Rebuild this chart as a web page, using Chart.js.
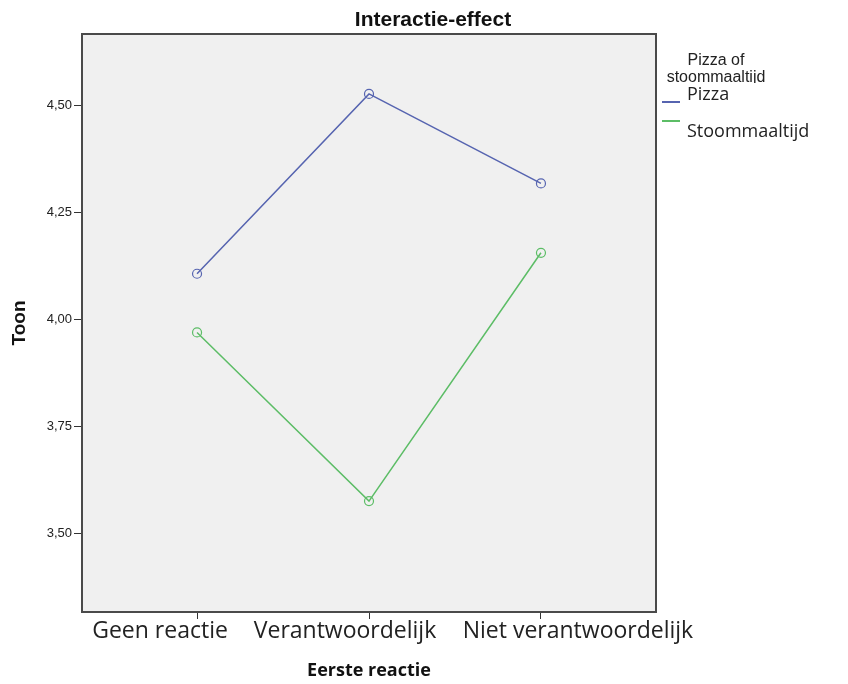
<!DOCTYPE html>
<html>
<head>
<meta charset="utf-8">
<script src="https://cdn.jsdelivr.net/npm/chart.js@4"></script>
<style>
  html, body { margin: 0; padding: 0; background: #fff; }
  #wrap { width: 848px; height: 684px; }
</style>
</head>
<body>
<div id="wrap"><canvas id="chart" width="848" height="684"></canvas></div>
<script>
var categories = ['Geen reactie', 'Verantwoordelijk', 'Niet verantwoordelijk'];
var pizza = [4.107, 4.527, 4.318];
var stoom = [3.970, 3.576, 4.156];
var yTicks = [3.50, 3.75, 4.00, 4.25, 4.50];
var chartTitle = 'Interactie-effect';
var legendTitle = ['Pizza of', 'stoommaaltijd'];

var narrow = '"Liberation Sans Narrow", "Liberation Sans", Arial, sans-serif';
var open = '"Open Sans", sans-serif';

function points(values) {
    return values.map(function (v, i) { return {x: i, y: v}; });
}

// grey plot background + frame
var plotFrame = {
    id: 'plotFrame',
    beforeDraw: function (chart) {
        var a = chart.chartArea, c = chart.ctx;
        c.save();
        c.fillStyle = '#f0f0f0';
        c.fillRect(a.left, a.top, a.right - a.left, a.bottom - a.top);
        c.restore();
    },
    afterDraw: function (chart) {
        var a = chart.chartArea, c = chart.ctx;
        c.save();
        c.strokeStyle = '#4a4a4a';
        c.lineWidth = 2;
        c.strokeRect(a.left, a.top, a.right - a.left, a.bottom - a.top);
        c.restore();
    }
};

// title sits a bit right of the plot centre, like the SPSS export
var topTitle = {
    id: 'topTitle',
    afterDraw: function (chart) {
        var c = chart.ctx;
        c.save();
        c.fillStyle = '#111';
        c.font = 'bold 21px ' + narrow;
        c.textAlign = 'center';
        c.textBaseline = 'alphabetic';
        c.fillText(chartTitle, 433, 26);
        c.restore();
    }
};

// category labels, spread out so the long ones do not collide
var catLabels = {
    id: 'catLabels',
    afterDraw: function (chart) {
        var c = chart.ctx, sx = chart.scales.x;
        var shift = [-37, -24, 37];
        c.save();
        c.fillStyle = '#222';
        c.font = '23px ' + open;
        c.textAlign = 'center';
        c.textBaseline = 'middle';
        categories.forEach(function (name, i) {
            c.fillText(name, sx.getPixelForValue(i) + shift[i], 631);
        });
        c.restore();
    }
};

// SPSS style legend to the right of the plot
var sideLegend = {
    id: 'sideLegend',
    afterDraw: function (chart) {
        var c = chart.ctx, a = chart.chartArea;
        var x = a.right + 6;
        c.save();
        c.beginPath();
        c.rect(a.right + 2, 0, 200, 83);
        c.clip();
        c.fillStyle = '#222';
        c.font = '16px ' + narrow;
        c.textAlign = 'center';
        c.textBaseline = 'alphabetic';
        c.fillText(legendTitle[0], 716, 65);
        c.fillText(legendTitle[1], 716, 82);
        c.restore();

        c.save();
        var rows = [{line: 102, text: 95}, {line: 121, text: 132}];
        chart.data.datasets.forEach(function (ds, i) {
            c.strokeStyle = ds.borderColor;
            c.lineWidth = 2;
            c.beginPath();
            c.moveTo(x, rows[i].line);
            c.lineTo(x + 18, rows[i].line);
            c.stroke();
            c.fillStyle = '#222';
            c.font = '18px ' + open;
            c.textAlign = 'left';
            c.textBaseline = 'middle';
            c.fillText(ds.label, x + 25, rows[i].text);
        });
        c.restore();
    }
};

new Chart(document.getElementById('chart').getContext('2d'), {
    type: 'line',
    data: {
        datasets: [
            {
                label: 'Pizza',
                data: points(pizza),
                borderColor: '#5664b0',
                borderWidth: 1.5,
                pointRadius: 4.5,
                pointBorderWidth: 1.2,
                pointBackgroundColor: 'rgba(0,0,0,0)',
                pointBorderColor: '#5664b0',
                tension: 0
            },
            {
                label: 'Stoommaaltijd',
                data: points(stoom),
                borderColor: '#5cbd66',
                borderWidth: 1.5,
                pointRadius: 4.5,
                pointBorderWidth: 1.2,
                pointBackgroundColor: 'rgba(0,0,0,0)',
                pointBorderColor: '#5cbd66',
                tension: 0
            }
        ]
    },
    options: {
        responsive: false,
        animation: false,
        layout: { padding: { left: 0, right: 192, top: 34, bottom: 0 } },
        plugins: {
            legend: { display: false },
            tooltip: { enabled: false },
            title: { display: false }
        },
        scales: {
            x: {
                type: 'linear',
                min: -0.669,
                max: 2.669,
                afterFit: function (s) { s.height = 72; },
                afterBuildTicks: function (s) {
                    s.ticks = categories.map(function (c, i) { return {value: i}; });
                },
                grid: { drawOnChartArea: false, drawTicks: true, tickLength: 7, tickColor: '#333' },
                border: { display: false },
                ticks: { display: false },
                title: {
                    display: true,
                    text: 'Eerste reactie',
                    color: '#111',
                    font: { family: open, size: 18, weight: 'bold', lineHeight: 1.2 },
                    padding: { top: 0, bottom: 2 }
                }
            },
            y: {
                min: 3.317,
                max: 4.667,
                afterFit: function (s) { s.width = 82; },
                afterBuildTicks: function (s) {
                    s.ticks = yTicks.map(function (v) { return {value: v}; });
                },
                grid: { drawOnChartArea: false, drawTicks: true, tickLength: 8, tickColor: '#333' },
                border: { display: false },
                ticks: {
                    padding: 2,
                    color: '#222',
                    font: { family: narrow, size: 13 },
                    callback: function (v) { return v.toFixed(2).replace('.', ','); }
                },
                title: {
                    display: true,
                    text: 'Toon',
                    color: '#111',
                    font: { family: '"Liberation Sans", Arial, sans-serif', size: 19, weight: 'bold', lineHeight: 1.2 },
                    padding: { top: 8, bottom: 0 }
                }
            }
        }
    },
    plugins: [plotFrame, topTitle, catLabels, sideLegend]
});
</script>
</body>
</html>
